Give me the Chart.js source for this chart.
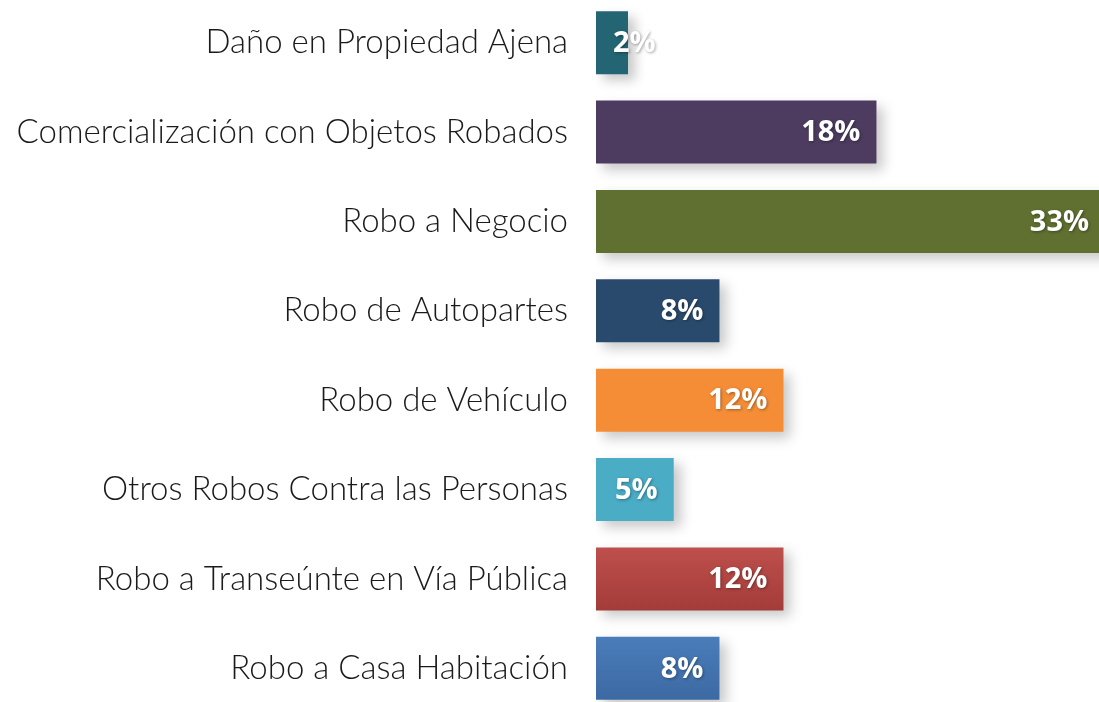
<!DOCTYPE html>
<html lang="es">
<head>
    <meta charset="UTF-8"/>
    <title>Delitos por tipo</title>
    <script src="https://cdn.jsdelivr.net/npm/chart.js"></script>
    <style>
        html, body {
            margin: 0;
            padding: 0;
            background: #fff;
            width: 1099px;
            height: 702px;
            overflow: hidden;
        }
        .chart-box {
            position: relative;
            width: 1099px;
            height: 715px;
            margin-top: -2px;
        }
    </style>
</head>
<body>
<div class="chart-box">
    <canvas id="crimeChart"></canvas>
</div>

<script>
    // categorias y valores
    const categories = [
        'Daño en Propiedad Ajena',
        'Comercialización con Objetos Robados',
        'Robo a Negocio',
        'Robo de Autopartes',
        'Robo de Vehículo',
        'Otros Robos Contra las Personas',
        'Robo a Transeúnte en Vía Pública',
        'Robo a Casa Habitación'
    ];
    const values = [2.1, 18.4, 33.4, 8.1, 12.3, 5.1, 12.3, 8.1];
    const valueLabels = ['2%', '18%', '33%', '8%', '12%', '5%', '12%', '8%'];
    const barColors = ['#246573', '#4d3b60', '#5f7030', '#2a4a6d', '#f58d36', '#4aacc5', '#be4f4c', '#4a7dbb'];
    const barColorsDark = ['#246573', '#4d3b60', '#5f7030', '#2a4a6d', '#f58d36', '#4aacc5', '#a33c39', '#3c69a3'];

    // sombra bajo las barras
    const barShadow = {
        id: 'barShadow',
        beforeDatasetsDraw(chart) {
            const c = chart.ctx;
            c.save();
            c.shadowColor = 'rgba(0, 0, 0, 0.22)';
            c.shadowBlur = 12;
            c.shadowOffsetX = 7;
            c.shadowOffsetY = 6;
        },
        afterDatasetsDraw(chart) {
            chart.ctx.restore();
        }
    };

    // etiquetas de porcentaje dentro de la barra
    const valueLabelPlugin = {
        id: 'valueLabels',
        afterDraw(chart) {
            const c = chart.ctx;
            const meta = chart.getDatasetMeta(0);
            const area = chart.chartArea;
            c.save();
            c.font = 'bold 29px "Open Sans", sans-serif';
            c.textBaseline = 'middle';
            c.textAlign = 'left';
            c.fillStyle = '#fff';
            c.shadowColor = 'rgba(0, 0, 0, 0.35)';
            c.shadowBlur = 3;
            c.shadowOffsetX = 1;
            c.shadowOffsetY = 1;
            meta.data.forEach((bar, i) => {
                const txt = valueLabels[i];
                const w = c.measureText(txt).width;
                let x = bar.x - 16 - w;
                if (x < area.left + 17) x = area.left + 17;
                if (x + w > chart.width - 4) x = chart.width - 4 - w;
                c.fillText(txt, x, bar.y + 1);
            });
            c.restore();
        }
    };

    const ctx = document.getElementById('crimeChart').getContext('2d');

    new Chart(ctx, {
        type: 'bar',
        data: {
            labels: categories,
            datasets: [{
                data: values,
                backgroundColor: context => {
                    const i = context.dataIndex;
                    const chart = context.chart;
                    if (!chart.chartArea || barColors[i] === barColorsDark[i]) return barColors[i];
                    const yc = chart.scales.y.getPixelForValue(i);
                    const g = chart.ctx.createLinearGradient(0, yc - 32, 0, yc + 32);
                    g.addColorStop(0, barColors[i]);
                    g.addColorStop(1, barColorsDark[i]);
                    return g;
                },
                borderWidth: 0,
                barPercentage: 0.705,
                categoryPercentage: 1
            }]
        },
        options: {
            indexAxis: 'y',
            responsive: true,
            maintainAspectRatio: false,
            animation: false,
            layout: { padding: 0 },
            scales: {
                x: {
                    display: false,
                    min: 0,
                    max: 33
                },
                y: {
                    grid: { display: false, drawTicks: false },
                    border: { display: false },
                    ticks: {
                        color: '#1a1a1a',
                        padding: 28,
                        font: { family: 'Lato, "DejaVu Sans", sans-serif', size: 33, weight: 300 }
                    },
                    afterFit: scale => {
                        scale.width = 596;
                        scale.paddingTop = 0;
                        scale.paddingBottom = 0;
                    }
                }
            },
            plugins: {
                legend: { display: false },
                tooltip: { enabled: false }
            }
        },
        plugins: [barShadow, valueLabelPlugin]
    });
</script>
</body>
</html>
